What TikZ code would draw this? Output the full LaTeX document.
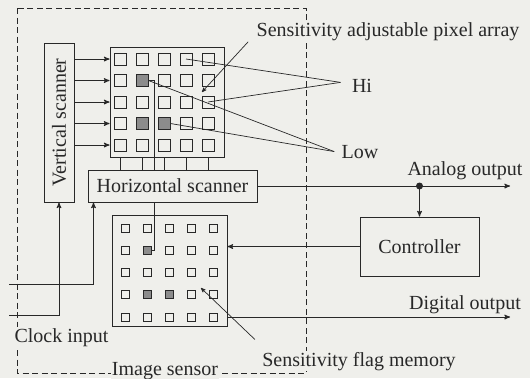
\documentclass[tikz,border=0pt]{standalone}
\usepackage{fontspec}
\setmainfont{Liberation Serif}
\usepackage{graphicx}
\usetikzlibrary{
    arrows,
    calc
}
\definecolor{paper}{RGB}{239,239,235}
\definecolor{ink}{RGB}{40,40,40}

\begin{document}
\begin{tikzpicture}[x=1pt,y=-1pt,->,>={stealth'[scale=1.3]},line width=1pt,color=ink,
font=\fontsize{20}{22}\selectfont,
block node/.style={-,draw,fill=paper,inner sep=0pt},
cell node/.style={-,draw,fill=paper,minimum size=12pt,inner sep=0pt,line width=0.9pt},
flag node/.style={-,draw,fill=paper,minimum size=8pt,inner sep=0pt,line width=0.9pt},
dark node/.style={fill=black!45},
label node/.style={fill=paper,inner sep=1pt},
pointer/.style={line width=0.7pt}]

\fill[paper] (0,0) rectangle (530,378);
\useasboundingbox (0,0) rectangle (530,378);

%Image sensor
\draw[-,line width=0.8pt,dash pattern=on 6pt off 3.5pt] (17,8) rectangle (306,373);

%Blocks
\node[block node,minimum width=30pt,minimum height=159pt] (vscan) at (59,122.5) {\rotatebox{90}{Vertical scanner}};
\node[block node,minimum width=114pt,minimum height=110pt] (parr) at (167,102) {};
\node[block node,minimum width=169pt,minimum height=32pt] (hscan) at (172.5,186) {Horizontal scanner};
\node[block node,minimum width=115pt,minimum height=111pt] (mem) at (169.5,270.5) {};
\node[block node,minimum width=119pt,minimum height=59pt] (ctrl) at (419.5,246.5) {Controller};

%Pixel array and flag memory
\foreach \r in {1,...,5}
  \foreach \c in {1,...,5} {
    \node[cell node] (p-\r-\c) at ({98+22*\c},{37.5+21.5*\r}) {};
    \node[flag node] (m-\r-\c) at ({103+22*\c},{205.75+22.25*\r}) {};
  }
\foreach \r/\c in {2/2,4/2,4/3} {
  \node[cell node,dark node] at (p-\r-\c) {};
  \node[flag node,dark node] at (m-\r-\c) {};
}

%Labels
\node[label node,anchor=base] (clk) at (61.5,342) {Clock input};
\node[label node,anchor=base] (isens) at (165,375) {Image sensor};
\node[label node,anchor=base] (sapa) at (388,36) {Sensitivity adjustable pixel array};
\node[label node,anchor=base] (sfm) at (359,366) {Sensitivity flag memory};
\node[label node,anchor=base] (hi) at (362,92) {Hi};
\node[label node,anchor=base] (low) at (360,158) {Low};
\node[label node,anchor=base] (aol) at (465,175) {Analog output};
\node[label node,anchor=base] (dol) at (465,309) {Digital output};

\coordinate (aout) at (510,186);
\coordinate (dout) at (510,317);
\coordinate (clk1) at (9,284);
\coordinate (clk2) at (9,315);
\coordinate (tap) at (ctrl.north |- hscan.east);
\coordinate (sapa-tip) at (202,92);
\coordinate (sfm-tip) at (201,288);

%Paths
\foreach \r in {1,...,5}
  \draw (vscan.east |- p-\r-1) -- (parr.west |- p-\r-1);
\foreach \c in {1,...,5}
  \draw[-] (parr.south -| p-5-\c) -- (hscan.north -| p-5-\c);
\draw[-] (p-2-2.east) -- ++(6,0) coordinate (link) -- (hscan.north -| link);
\draw[-] (hscan.south -| link) |- (m-2-2.east);

\draw (hscan.east) -- (aout);
\draw (tap) -- (ctrl.north);
\fill (tap) circle[radius=3.5pt];
\draw (ctrl.west) -- (ctrl.west -| mem.east);
\draw (mem.east |- m-5-5) -- (dout);

\draw (clk1) -| ([xshift=6pt]hscan.south west);
\draw (clk2) -| (vscan.south);

\draw[pointer] ([shift={(-7,0)}]sapa.south west) -- (sapa-tip);
\draw[pointer] ([shift={(-6,-11)}]sfm.north west) -- (sfm-tip);
\draw[pointer,-] ([shift={(-10,-3)}]hi.west) -- (p-1-4.center);
\draw[pointer,-] ([shift={(-10,-3)}]hi.west) -- (p-3-5.center);
\draw[pointer,-] ([shift={(-6,0)}]low.west) -- (p-2-2.east);
\draw[pointer,-] ([shift={(-6,0)}]low.west) -- (p-4-3.east);
\end{tikzpicture}
\end{document}
